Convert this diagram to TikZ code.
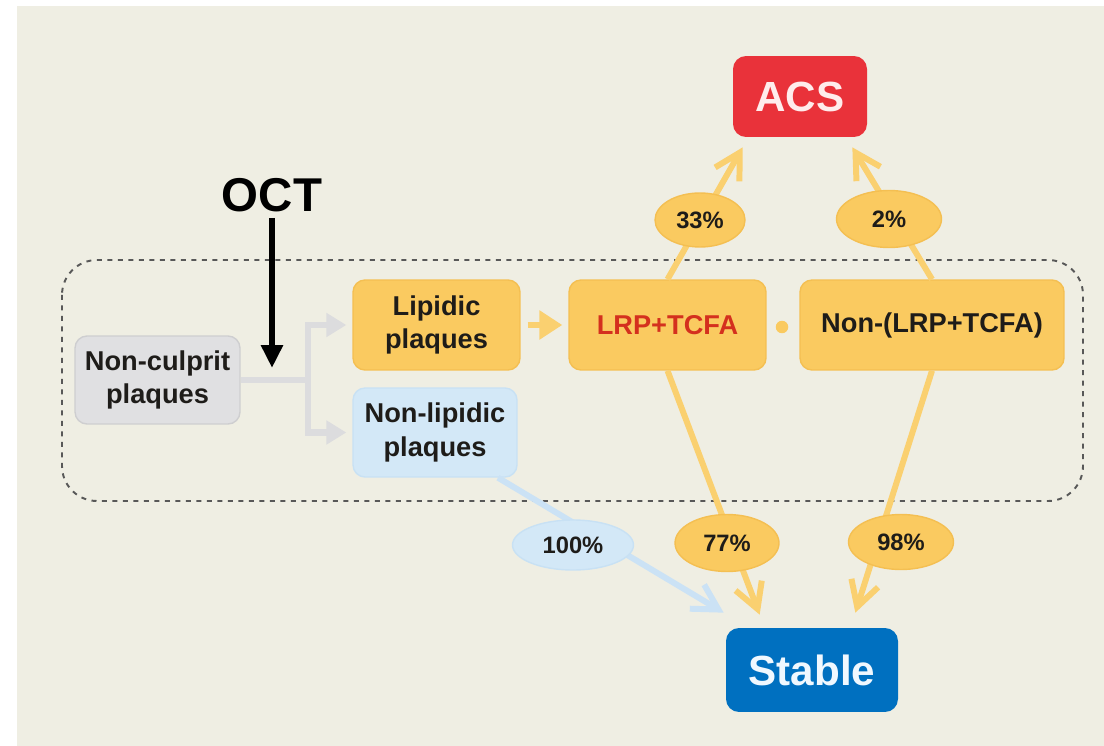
\documentclass[tikz,border=0pt]{standalone}
\usepackage{fontspec}
\setmainfont{Liberation Sans}
\usetikzlibrary{arrows.meta,shapes.geometric}
\definecolor{paper}{RGB}{239,238,227}
\definecolor{orfill}{RGB}{250,202,96}
\definecolor{ordraw}{RGB}{244,191,82}
\definecolor{orline}{RGB}{250,208,112}
\definecolor{blfill}{RGB}{211,232,247}
\definecolor{bldraw}{RGB}{200,225,244}
\definecolor{blline}{RGB}{203,226,245}
\definecolor{gyfill}{RGB}{224,224,226}
\definecolor{gydraw}{RGB}{206,206,208}
\definecolor{gyline}{RGB}{220,220,222}
\definecolor{acsred}{RGB}{233,50,58}
\definecolor{stblue}{RGB}{0,112,192}
\definecolor{txt}{RGB}{30,28,25}
\definecolor{lrpred}{RGB}{212,48,30}
\definecolor{framegray}{RGB}{88,88,88}
\begin{document}
\begin{tikzpicture}[x=0.02cm,y=-0.02cm,
  box/.style={rounded corners=0.24cm,align=center,inner sep=0pt,text=txt,
    font=\bfseries\fontsize{15.5}{19}\selectfont},
  orbox/.style={box,fill=orfill,draw=ordraw,line width=0.8pt},
  endbox/.style={rounded corners=0.26cm,inner sep=0pt,
    font=\bfseries\fontsize{24}{28}\selectfont},
  pct/.style={ellipse,fill=orfill,draw=ordraw,line width=0.8pt,inner sep=0pt,
    text=txt,font=\bfseries\fontsize{13.5}{16}\selectfont},
  orarrow/.style={orline,line width=3.4pt,
    -{Straight Barb[length=0.5cm,width=0.56cm]}},
  gyarrow/.style={gyline,line width=3.6pt,
    -{Triangle[length=0.4cm,width=0.46cm]}}]
  \useasboundingbox (0,0) rectangle (1104,746);
  \fill[white] (0,0) rectangle (1104,746);
  \fill[paper] (17,6) rectangle (1104,746);
  \draw[framegray,line width=1.1pt,dash pattern=on 0.1cm off 0.11cm,rounded corners=0.7cm]
    (62,260) rectangle (1083,501);
  \node[box,fill=gyfill,draw=gydraw,line width=0.8pt,minimum width=3.3cm,minimum height=1.76cm]
    (nonculprit) at (157.5,380) {Non-culprit\\plaques};
  \node[orbox,minimum width=3.34cm,minimum height=1.8cm] (lipidic) at (436.5,325) {Lipidic\\plaques};
  \node[box,fill=blfill,draw=bldraw,line width=0.8pt,minimum width=3.28cm,minimum height=1.78cm]
    (nonlip) at (435,432.5) {Non-lipidic\\plaques};
  \node[orbox,text=lrpred,minimum width=3.94cm,minimum height=1.8cm] (lrp) at (667.5,325) {LRP+TCFA};
  \node[orbox,minimum width=5.28cm,minimum height=1.8cm] (nonlrp) at (932,325) {Non-(LRP+TCFA)};
  \node[circle,fill=orfill,inner sep=0pt,minimum size=0.25cm] (dot) at (782,327) {};
  \node[endbox,fill=acsred,text={rgb,255:red,255;green,236;blue,236},
    minimum width=2.68cm,minimum height=1.62cm] (acs) at (800,96.5) {ACS};
  \node[endbox,fill=stblue,text={rgb,255:red,240;green,248;blue,255},
    minimum width=3.44cm,minimum height=1.68cm] (stable) at (812,670) {Stable};
  \node[font=\bfseries\fontsize{27}{30}\selectfont,text=black] (oct) at (272,195) {OCT};
  \coordinate (octtip) at (272,368);
  \draw[black,line width=3.6pt,-{Triangle[length=0.46cm,width=0.42cm]}] (oct.south) -- (octtip);
  \coordinate (split) at (308,380);
  \draw[gyline,line width=3.6pt] (nonculprit.east) -- (split);
  \draw[gyarrow] (split) |- ([xshift=-0.12cm]lipidic.west);
  \draw[gyarrow] (split) |- ([xshift=-0.12cm]nonlip.west);
  \draw[orline,line width=3.4pt,-{Triangle[length=0.46cm,width=0.56cm]},
    shorten <=0.14cm,shorten >=0.12cm] (lipidic.east) -- (lrp.west);
  \draw[orarrow] (lrp.north) -- ([xshift=0.2cm,yshift=-0.2cm]acs.south west);
  \draw[orarrow] (nonlrp.north) -- ([xshift=-0.3cm,yshift=-0.2cm]acs.south east);
  \draw[orarrow] (lrp.south) -- ([xshift=0.68cm,yshift=0.26cm]stable.north west);
  \draw[orarrow] (nonlrp.south) -- ([xshift=-0.86cm,yshift=0.3cm]stable.north east);
  \draw[blline,line width=3.4pt,-{Straight Barb[length=0.5cm,width=0.56cm]}]
    ([xshift=1.26cm]nonlip.south) -- ([xshift=-0.04cm,yshift=0.3cm]stable.north west);
  \node[pct,minimum width=1.8cm,minimum height=1.08cm] (p33) at (700,220) {33\%};
  \node[pct,minimum width=2.1cm,minimum height=1.14cm] (p2) at (889,219) {2\%};
  \node[pct,fill=blfill,draw=bldraw,minimum width=2.42cm,minimum height=1.0cm] (p100) at (573,545) {100\%};
  \node[pct,minimum width=2.08cm,minimum height=1.14cm] (p77) at (727,543) {77\%};
  \node[pct,minimum width=2.1cm,minimum height=1.1cm] (p98) at (901,542) {98\%};
\end{tikzpicture}
\end{document}
